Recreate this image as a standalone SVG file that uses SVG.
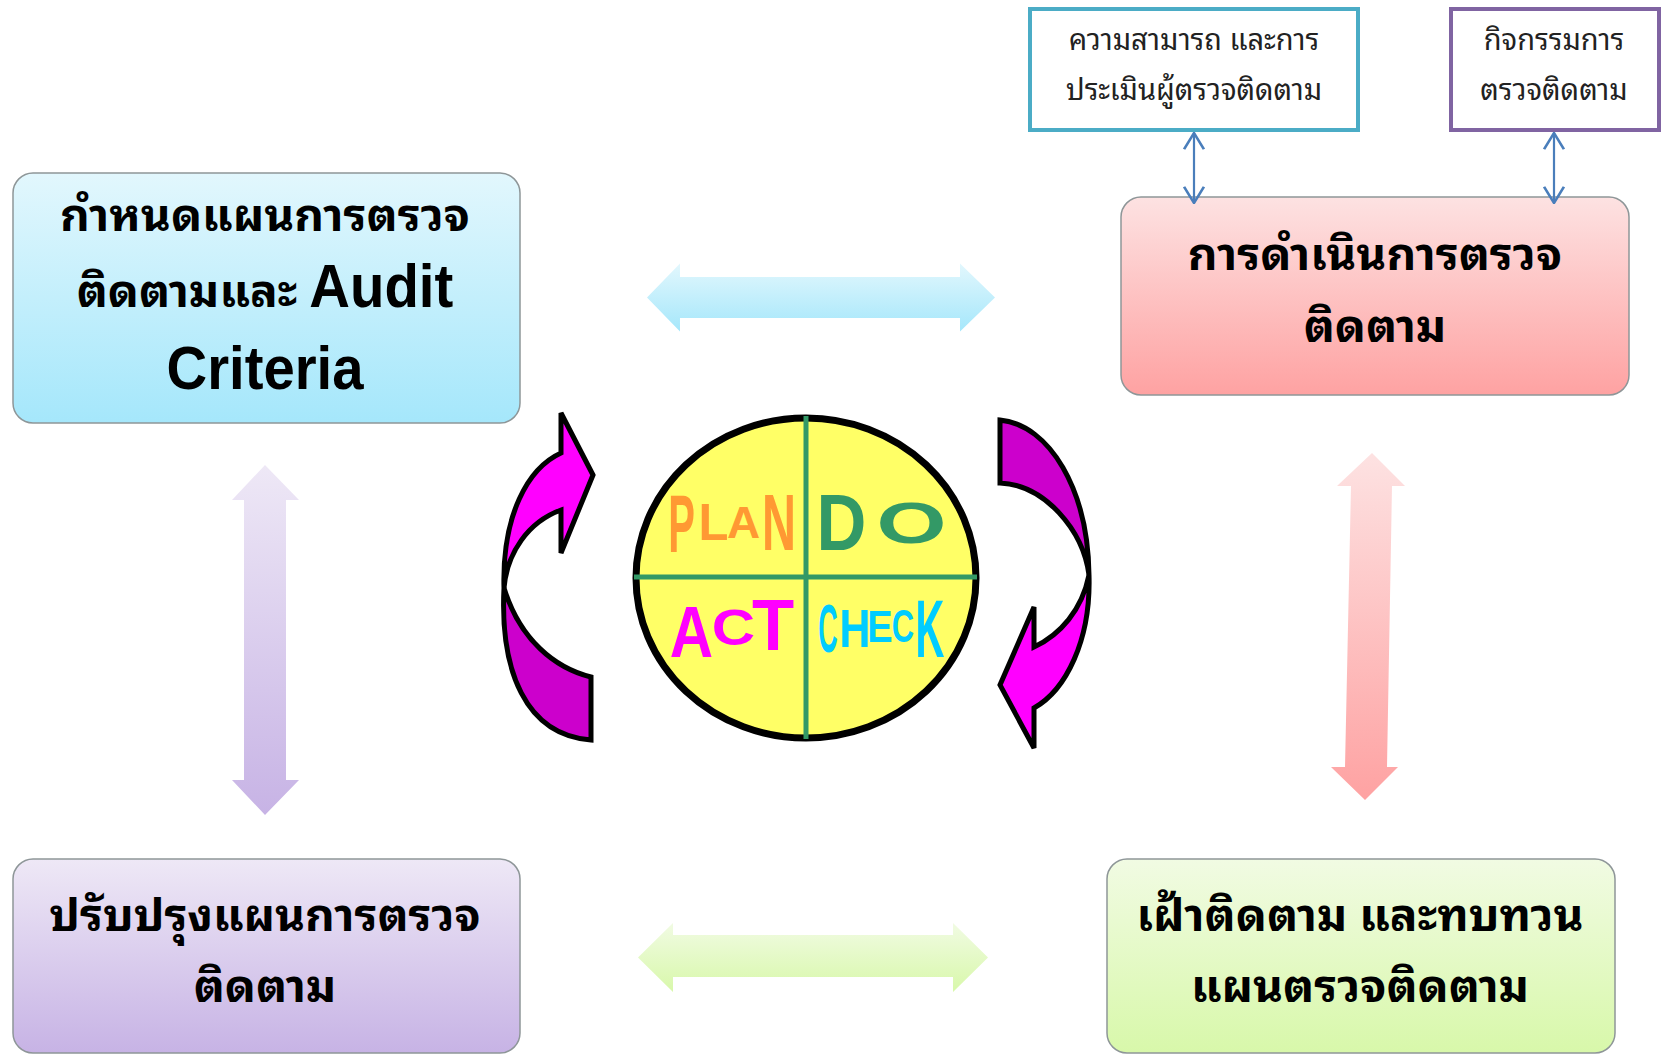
<svg xmlns="http://www.w3.org/2000/svg" width="1662" height="1055" viewBox="0 0 1662 1055">
  <style>
    .box { stroke: #8e9698; stroke-width: 1.5; }
    .big { font-family: "Noto Sans Thai Looped", Loma, Garuda, Kinnari, Norasi, Waree, "Tlwg Typo", "Noto Sans Thai", Tahoma, "Liberation Sans", sans-serif; font-weight: bold; font-size: 46px; fill: #000; text-anchor: middle; }
    .lat { font-family: "Liberation Sans Narrow", "Arial Narrow", "Liberation Sans", sans-serif; font-weight: bold; font-size: 62px; }
    .small { font-family: "Noto Sans Thai Looped", Loma, Garuda, Kinnari, Norasi, Waree, "Tlwg Typo", "Noto Sans Thai", Tahoma, "Liberation Sans", sans-serif; font-size: 29px; fill: #222; text-anchor: middle; }
    .frame { fill: #fff; stroke-width: 4; }
    .link { stroke: #4a7ebb; stroke-width: 2.2; fill: none; marker-start: url(#vhead); marker-end: url(#vhead); }
    .curl { stroke: #000; stroke-width: 5; stroke-linejoin: miter; }
    .pdca { font-family: "Liberation Sans", Arial, sans-serif; font-weight: bold; font-size: 100px; text-anchor: middle; }
  </style>
  <defs>
    <linearGradient id="gBlue" x1="0" y1="0" x2="0" y2="1"><stop offset="0" stop-color="#e2f7fd"/><stop offset="1" stop-color="#a5e7fb"/></linearGradient>
    <linearGradient id="gPink" x1="0" y1="0" x2="0" y2="1"><stop offset="0" stop-color="#fde2e2"/><stop offset="1" stop-color="#fea2a2"/></linearGradient>
    <linearGradient id="gLav" x1="0" y1="0" x2="0" y2="1"><stop offset="0" stop-color="#eee8f6"/><stop offset="1" stop-color="#c7b3e5"/></linearGradient>
    <linearGradient id="gGreen" x1="0" y1="0" x2="0" y2="1"><stop offset="0" stop-color="#f1fbe3"/><stop offset="1" stop-color="#d8f8aa"/></linearGradient>
    <marker id="vhead" viewBox="0 0 20 20" refX="19" refY="10" markerWidth="18" markerHeight="22" markerUnits="userSpaceOnUse" orient="auto-start-reverse" preserveAspectRatio="none">
      <path d="M1,1 L19,10 L1,19" fill="none" stroke="#4a7ebb" stroke-width="2.4"/>
    </marker>
  </defs>
  <rect width="1662" height="1055" fill="#fff"/>

  <g id="plan-node">
    <rect class="box" x="13" y="173" width="507" height="250" rx="20" fill="url(#gBlue)"/>
    <text class="big" x="265" y="231">กำหนดแผนการตรวจ</text>
    <text class="big" x="265" y="307">ติดตามและ <tspan class="lat" textLength="144" lengthAdjust="spacingAndGlyphs">Audit</tspan></text>
    <text class="big lat" x="265" y="389" textLength="197" lengthAdjust="spacingAndGlyphs">Criteria</text>
  </g>

  <g id="do-node">
    <rect class="box" x="1121" y="197" width="508" height="198" rx="20" fill="url(#gPink)"/>
    <text class="big" x="1375" y="270">การดำเนินการตรวจ</text>
    <text class="big" x="1375" y="342">ติดตาม</text>
  </g>

  <g id="act-node">
    <rect class="box" x="13" y="859" width="507" height="194" rx="20" fill="url(#gLav)"/>
    <text class="big" x="265" y="931">ปรับปรุงแผนการตรวจ</text>
    <text class="big" x="265" y="1002">ติดตาม</text>
  </g>

  <g id="check-node">
    <rect class="box" x="1107" y="859" width="508" height="194" rx="20" fill="url(#gGreen)"/>
    <text class="big" x="1360" y="931">เฝ้าติดตาม และทบทวน</text>
    <text class="big" x="1360" y="1002">แผนตรวจติดตาม</text>
  </g>

  <g id="competence-node">
    <rect class="frame" x="1030" y="9" width="328" height="121" stroke="#4bacc6"/>
    <text class="small" x="1194" y="50">ความสามารถ และการ</text>
    <text class="small" x="1194" y="100">ประเมินผู้ตรวจติดตาม</text>
  </g>

  <g id="activity-node">
    <rect class="frame" x="1451" y="9" width="208" height="121" stroke="#8064a2"/>
    <text class="small" x="1554" y="50">กิจกรรมการ</text>
    <text class="small" x="1554" y="100">ตรวจติดตาม</text>
  </g>

  <!-- double-headed block arrows and thin links -->
  <g id="connectors">
    <polygon points="647,297.5 680,263.5 680,277 960,277 960,263.5 995,297.5 960,331.5 960,318 680,318 680,331.5" fill="url(#gBlue)"/>
    <polygon points="638,957.5 673,923 673,935 953,935 953,923 988,957.5 953,992 953,977 673,977 673,992" fill="url(#gGreen)"/>
    <polygon points="265,465 299,500 286,500 286,780 299,780 265,815 232,780 244,780 244,500 232,500" fill="url(#gLav)"/>
    <polygon points="1372,453 1405,486 1392,486 1387,767 1398,767 1365,800 1331,767 1345,767 1351,486 1337,486" fill="url(#gPink)"/>
    <line class="link" x1="1194" y1="133" x2="1194" y2="203"/>
    <line class="link" x1="1554" y1="133" x2="1554" y2="203"/>
  </g>

  <!-- PDCA wheel with the two turning arrows -->
  <g id="pdca-cycle">
    <path class="curl" fill="#cc00cc" d="M504,588 C500,670 525,735 591,740 L591,677 C555,668 520,640 504,588 Z"/>
    <path class="curl" fill="#ff00ff" d="M593,475 L561,413 L561,453 C528,468 502,515 504,588 C507,553 528,522 561,510 L561,553 Z"/>
    <path class="curl" fill="#cc00cc" d="M1000,420 C1050,425 1088,490 1089,575 C1083,530 1045,485 1000,483 Z"/>
    <path class="curl" fill="#ff00ff" d="M1089,575 C1091,640 1066,690 1034,708 L1034,748 L1000,685 L1034,607 L1034,647 C1060,635 1082,610 1089,575 Z"/>

    <ellipse cx="806" cy="578" rx="170" ry="160" fill="#ffff66" stroke="#000" stroke-width="7"/>
    <line x1="806" y1="416" x2="806" y2="739" stroke="#339966" stroke-width="5"/>
    <line x1="634" y1="577" x2="977" y2="577" stroke="#339966" stroke-width="5"/>

    <g class="pdca" fill="#ff9933">
      <text transform="translate(681.5,552) scale(0.40,0.824)">P</text>
      <text transform="translate(713.5,540) scale(0.49,0.52)">L</text>
      <text transform="translate(743.5,538) scale(0.46,0.45)">A</text>
      <text transform="translate(779,550) scale(0.47,0.80)">N</text>
    </g>
    <g class="pdca" fill="#339966">
      <text transform="translate(841.5,550) scale(0.69,0.80)">D</text>
      <text transform="translate(911.5,543) scale(0.90,0.58)">O</text>
    </g>
    <g class="pdca" fill="#ff00ff">
      <text transform="translate(691.5,657) scale(0.60,0.73)">A</text>
      <text transform="translate(733.5,645) scale(0.60,0.50)">C</text>
      <text transform="translate(773,650) scale(0.69,0.73)">T</text>
    </g>
    <g class="pdca" fill="#00ccff">
      <text transform="translate(828,652) scale(0.27,0.68)">C</text>
      <text transform="translate(855,647) scale(0.43,0.54)">H</text>
      <text transform="translate(880,642) scale(0.38,0.44)">E</text>
      <text transform="translate(903,642) scale(0.31,0.46)">C</text>
      <text transform="translate(930,657) scale(0.40,0.82)">K</text>
    </g>
  </g>
</svg>
